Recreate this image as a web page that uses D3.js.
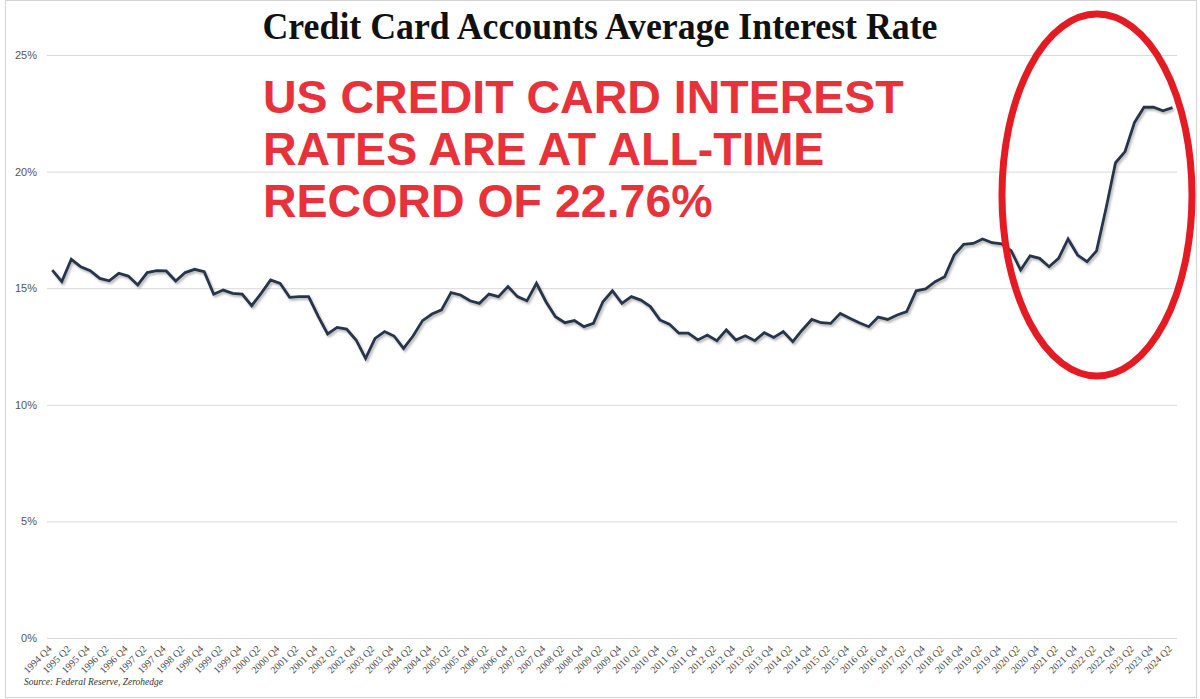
<!DOCTYPE html>
<html lang="en">
<head>
    <meta charset="UTF-8">
    <title>Credit Card Accounts Average Interest Rate</title>
    <script src="https://d3js.org/d3.v7.min.js"></script>
</head>
<style>
    * { margin: 0; padding: 0; }
    body { background: #fff; }
    svg { display: block; }
</style>
<body>
<script>
    // quarterly rate, 1994 Q4 .. 2024 Q2
    var rates = [
        15.78, 15.28, 16.24, 15.92, 15.75, 15.42, 15.32, 15.64, 15.52, 15.14,
        15.67, 15.75, 15.74, 15.31, 15.67, 15.81, 15.71, 14.74, 14.92, 14.78,
        14.75, 14.25, 14.78, 15.35, 15.21, 14.61, 14.64, 14.64, 13.80, 13.04,
        13.32, 13.25, 12.78, 11.99, 12.85, 13.14, 12.95, 12.42, 12.95, 13.61,
        13.89, 14.07, 14.81, 14.71, 14.46, 14.35, 14.75, 14.64, 15.07, 14.64,
        14.46, 15.21, 14.42, 13.78, 13.52, 13.61, 13.35, 13.49, 14.42, 14.89,
        14.35, 14.64, 14.49, 14.21, 13.64, 13.46, 13.07, 13.07, 12.78, 12.99,
        12.75, 13.21, 12.78, 12.96, 12.75, 13.09, 12.89, 13.14, 12.71, 13.21,
        13.66, 13.52, 13.49, 13.92, 13.71, 13.52, 13.35, 13.76, 13.66, 13.85,
        14.00, 14.89, 14.97, 15.28, 15.49, 16.42, 16.88, 16.92, 17.11, 16.95,
        16.90, 16.61, 15.78, 16.39, 16.28, 15.92, 16.28, 17.11, 16.42, 16.14,
        16.60, 18.43, 20.38, 20.86, 22.11, 22.76, 22.76, 22.61, 22.74
    ];

    // every second quarter gets a label
    var xTickLabels = [
        "1994 Q4", "1995 Q2", "1995 Q4", "1996 Q2", "1996 Q4", "1997 Q2", "1997 Q4", "1998 Q2",
        "1998 Q4", "1999 Q2", "1999 Q4", "2000 Q2", "2000 Q4", "2001 Q2", "2001 Q4", "2002 Q2",
        "2002 Q4", "2003 Q2", "2003 Q4", "2004 Q2", "2004 Q4", "2005 Q2", "2005 Q4", "2006 Q2",
        "2006 Q4", "2007 Q2", "2007 Q4", "2008 Q2", "2008 Q4", "2009 Q2", "2009 Q4", "2010 Q2",
        "2010 Q4", "2011 Q2", "2011 Q4", "2012 Q2", "2012 Q4", "2013 Q2", "2013 Q4", "2014 Q2",
        "2014 Q4", "2015 Q2", "2015 Q4", "2016 Q2", "2016 Q4", "2017 Q2", "2017 Q4", "2018 Q2",
        "2018 Q4", "2019 Q2", "2019 Q4", "2020 Q2", "2020 Q4", "2021 Q2", "2021 Q4", "2022 Q2",
        "2022 Q4", "2023 Q2", "2023 Q4", "2024 Q2"
    ];

    var yTicks = [0, 5, 10, 15, 20, 25];

    var titleText = "Credit Card Accounts Average Interest Rate";
    var noteLines = ["US CREDIT CARD INTEREST", "RATES ARE AT ALL-TIME", "RECORD OF 22.76%"];
    var sourceText = "Source: Federal Reserve, Zerohedge";

    var width = 1200,
        height = 699;

    var svg = d3.select("body")
                .append("svg")
                .attr("width", width)
                .attr("height", height)

    // drop shadow under the line
    var filt = svg.append("defs").append("filter")
                .attr("id", "shadow")
                .attr("x", "-5%").attr("y", "-5%")
                .attr("width", "110%").attr("height", "120%")
    filt.append("feDropShadow")
        .attr("dx", 1.5).attr("dy", 2)
        .attr("stdDeviation", 1.2)
        .attr("flood-color", "#000")
        .attr("flood-opacity", 0.3)

    // outer frame
    svg.append("rect")
        .attr("x", 5.5).attr("y", 0.5)
        .attr("width", 1191).attr("height", 697)
        .attr("fill", "none")
        .attr("stroke", "#d4d4d4")

    var x = d3.scalePoint()
            .domain(d3.range(rates.length))
            .range([52.3, 1172.5])

    var y = d3.scaleLinear()
            .domain([0, 25])
            .range([638, 55])

    var gridLeft = 47, gridRight = 1177;

    // y axis + gridlines
    var yAxis = d3.axisLeft(y)
                .tickValues(yTicks)
                .tickSizeInner(-(gridRight - gridLeft))
                .tickSizeOuter(0)
                .tickPadding(10)
                .tickFormat(function(d) { return d + "%" })

    var gy = svg.append("g")
                .attr("transform", "translate(" + gridLeft + ",0)")
                .call(yAxis)
    gy.select(".domain").remove()
    gy.selectAll("line").attr("stroke", "#d9d9d9")
    gy.selectAll("text")
        .attr("fill", "#555555")
        .style("font-family", "'Liberation Sans', Arial, sans-serif")
        .style("font-size", "11px")

    // x axis labels, rotated
    var xAxis = d3.axisBottom(x)
                .tickValues(d3.range(0, rates.length, 2))
                .tickSize(0)
                .tickFormat(function(d) { return xTickLabels[d / 2] })

    var gx = svg.append("g")
                .attr("transform", "translate(0,638)")
                .call(xAxis)
    gx.select(".domain").remove()
    gx.selectAll("text")
        .attr("x", 0).attr("y", 0).attr("dy", "0.35em")
        .attr("transform", "translate(-3,9) rotate(-45)")
        .attr("text-anchor", "end")
        .attr("fill", "#4a4a4a")
        .style("font-family", "'Liberation Serif', 'Times New Roman', serif")
        .style("font-size", "10px")

    // the rate line
    var line = d3.line()
                .x(function(d, i) { return x(i) })
                .y(function(d) { return y(d) })

    svg.append("path")
        .datum(rates)
        .attr("d", line)
        .attr("fill", "none")
        .attr("stroke", "#263648")
        .attr("stroke-width", 2.8)
        .attr("stroke-linejoin", "miter")
        .attr("filter", "url(#shadow)")

    // title
    svg.append("text")
        .attr("x", 600).attr("y", 39)
        .attr("text-anchor", "middle")
        .attr("textLength", 675)
        .attr("lengthAdjust", "spacingAndGlyphs")
        .style("font-family", "'Liberation Serif', 'Times New Roman', serif")
        .style("font-weight", "bold")
        .style("font-size", "38px")
        .attr("fill", "#111")
        .text(titleText)

    // red headline
    svg.selectAll(".note")
        .data(noteLines)
        .enter()
        .append("text")
        .attr("class", "note")
        .attr("x", 263)
        .attr("y", function(d, i) { return 113 + i * 52 })
        .style("font-family", "'Liberation Sans', Arial, sans-serif")
        .style("font-weight", "bold")
        .style("font-size", "46.5px")
        .attr("fill", "#e8323b")
        .text(function(d) { return d })

    // source
    svg.append("text")
        .attr("x", 24).attr("y", 685)
        .attr("textLength", 139)
        .attr("lengthAdjust", "spacingAndGlyphs")
        .style("font-family", "'Liberation Serif', 'Times New Roman', serif")
        .style("font-style", "italic")
        .style("font-size", "11px")
        .attr("fill", "#333")
        .text(sourceText)

    // red circle round the recent jump
    svg.append("ellipse")
        .attr("cx", 1097).attr("cy", 195)
        .attr("rx", 95).attr("ry", 181)
        .attr("fill", "none")
        .attr("stroke", "#e51b23")
        .attr("stroke-width", 7)
</script>
</body>
</html>
